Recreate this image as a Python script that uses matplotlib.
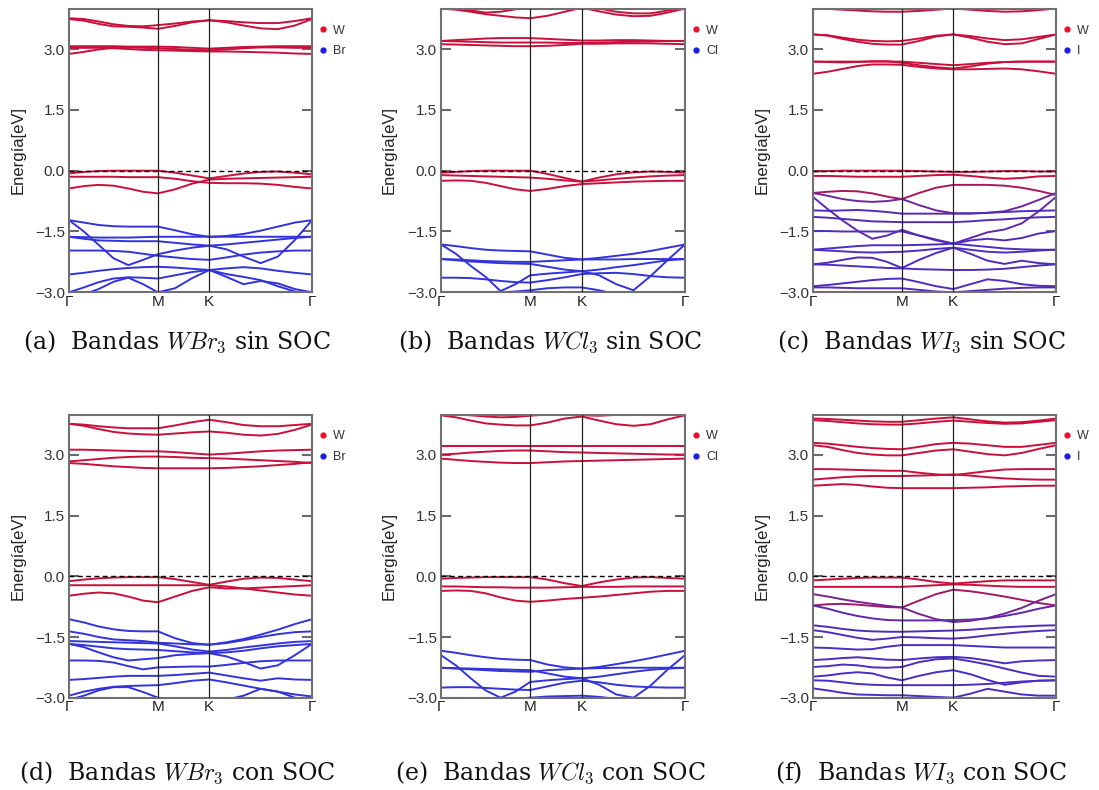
import numpy as np
import matplotlib
matplotlib.use('Agg')
import matplotlib.pyplot as plt
from matplotlib.lines import Line2D

plt.rcParams['font.family'] = ['Liberation Sans', 'DejaVu Sans']
plt.rcParams['mathtext.fontset'] = 'cm'

# ---------------- path / axis data ----------------
k_labels = ['Γ', 'M', 'K', 'Γ']
seg_len = [1 / np.sqrt(3), 1 / 3, 2 / 3]      # Γ-M, M-K, K-Γ (hexagonal BZ)
seg_pts = [6, 3, 6]                            # samples per segment
y_ticks = [-3.0, -1.5, 0.0, 1.5, 3.0]
y_tick_labels = ['−3.0', '−1.5', '0.0', '1.5', '3.0']
y_range = (-3.0, 4.0)

# ---------------- (a) WBr3 sin SOC ----------------
bands_a = [
    [3.76, 3.74, 3.68, 3.61, 3.57, 3.56, 3.59, 3.63, 3.68, 3.71, 3.69, 3.66, 3.64, 3.64, 3.69, 3.76],
    [3.74, 3.70, 3.62, 3.56, 3.55, 3.53, 3.50, 3.57, 3.66, 3.71, 3.66, 3.58, 3.51, 3.49, 3.58, 3.74],
    [3.07, 3.07, 3.07, 3.07, 3.06, 3.06, 3.06, 3.05, 3.03, 3.01, 3.03, 3.05, 3.06, 3.07, 3.07, 3.07],
    [2.88, 2.93, 2.99, 3.03, 3.04, 3.03, 3.02, 3.00, 2.98, 2.97, 2.99, 3.02, 3.04, 3.04, 3.03, 3.03],
    [3.03, 3.03, 3.03, 3.02, 3.00, 2.98, 2.97, 2.96, 2.95, 2.94, 2.94, 2.93, 2.92, 2.91, 2.89, 2.88],
    [-0.07, -0.03, -0.01, 0.0, 0.0, 0.0, 0.0, -0.05, -0.12, -0.19, -0.13, -0.07, -0.03, -0.02, -0.05, -0.09],
    [-0.15, -0.15, -0.15, -0.15, -0.16, -0.16, -0.16, -0.20, -0.26, -0.30, -0.31, -0.31, -0.32, -0.35, -0.40, -0.44],
    [-0.44, -0.38, -0.35, -0.37, -0.44, -0.52, -0.56, -0.46, -0.32, -0.22, -0.20, -0.19, -0.18, -0.17, -0.16, -0.15],
    [-1.22, -1.28, -1.34, -1.37, -1.38, -1.38, -1.38, -1.47, -1.57, -1.63, -1.61, -1.56, -1.48, -1.38, -1.28, -1.22],
    [-1.22, -1.50, -1.83, -2.16, -2.33, -2.20, -2.06, -1.97, -1.90, -1.85, -1.94, -2.12, -2.28, -2.12, -1.71, -1.22],
    [-1.63, -1.64, -1.65, -1.65, -1.65, -1.64, -1.63, -1.63, -1.63, -1.63, -1.63, -1.63, -1.63, -1.63, -1.63, -1.63],
    [-1.63, -1.68, -1.72, -1.73, -1.74, -1.74, -1.74, -1.78, -1.82, -1.85, -1.82, -1.78, -1.74, -1.70, -1.66, -1.63],
    [-1.97, -1.97, -1.97, -1.98, -2.00, -2.05, -2.10, -2.14, -2.18, -2.20, -2.14, -2.07, -2.02, -1.99, -1.97, -1.97],
    [-2.56, -2.52, -2.47, -2.43, -2.40, -2.38, -2.37, -2.39, -2.42, -2.45, -2.41, -2.38, -2.41, -2.47, -2.52, -2.56],
    [-3.00, -2.88, -2.75, -2.66, -2.63, -2.64, -2.66, -2.58, -2.50, -2.45, -2.62, -2.80, -2.72, -2.78, -2.92, -3.00],
    [-3.10, -3.05, -2.92, -2.74, -2.64, -2.80, -3.00, -2.90, -2.65, -2.45, -2.55, -2.62, -2.70, -2.85, -2.98, -3.08],
]
weights_a = [1, 1, 1, 1, 1, 1, 1, 1, 0, 0, 0, 0, 0, 0, 0, 0]

# ---------------- (b) WCl3 sin SOC ----------------
bands_b = [
    [4.00, 3.97, 3.92, 3.86, 3.82, 3.78, 3.76, 3.82, 3.92, 4.02, 3.93, 3.85, 3.81, 3.82, 3.90, 4.00],
    [4.02, 4.00, 3.95, 3.90, 3.92, 3.98, 4.03, 4.05, 4.05, 4.05, 4.00, 3.92, 3.88, 3.88, 3.95, 4.02],
    [3.20, 3.22, 3.24, 3.26, 3.27, 3.27, 3.27, 3.25, 3.23, 3.21, 3.21, 3.22, 3.22, 3.21, 3.20, 3.20],
    [3.20, 3.19, 3.18, 3.17, 3.16, 3.16, 3.16, 3.16, 3.15, 3.15, 3.16, 3.17, 3.18, 3.19, 3.20, 3.20],
    [3.12, 3.11, 3.10, 3.09, 3.08, 3.07, 3.07, 3.08, 3.10, 3.13, 3.13, 3.14, 3.14, 3.14, 3.13, 3.12],
    [-0.05, -0.03, -0.01, 0.0, 0.0, 0.0, 0.0, -0.08, -0.18, -0.27, -0.17, -0.09, -0.04, -0.02, -0.03, -0.05],
    [-0.11, -0.12, -0.13, -0.14, -0.15, -0.16, -0.17, -0.20, -0.24, -0.27, -0.24, -0.20, -0.17, -0.14, -0.12, -0.11],
    [-0.25, -0.24, -0.25, -0.30, -0.38, -0.46, -0.50, -0.45, -0.38, -0.33, -0.31, -0.29, -0.27, -0.26, -0.25, -0.25],
    [-1.82, -1.86, -1.91, -1.95, -1.97, -1.98, -1.99, -2.07, -2.15, -2.19, -2.15, -2.10, -2.05, -1.98, -1.90, -1.82],
    [-1.82, -2.05, -2.35, -2.62, -2.97, -2.80, -2.58, -2.54, -2.51, -2.48, -2.58, -2.80, -2.95, -2.60, -2.20, -1.82],
    [-2.18, -2.19, -2.21, -2.23, -2.24, -2.25, -2.25, -2.23, -2.21, -2.19, -2.19, -2.19, -2.18, -2.18, -2.18, -2.18],
    [-2.18, -2.21, -2.24, -2.26, -2.28, -2.29, -2.30, -2.37, -2.44, -2.48, -2.44, -2.38, -2.33, -2.27, -2.21, -2.18],
    [-2.64, -2.64, -2.65, -2.68, -2.72, -2.75, -2.76, -2.70, -2.63, -2.55, -2.53, -2.52, -2.55, -2.60, -2.63, -2.64],
    [-3.10, -3.10, -3.10, -3.05, -3.00, -2.98, -2.95, -2.90, -2.88, -2.88, -2.95, -3.05, -3.10, -3.10, -3.10, -3.10],
]
weights_b = [1, 1, 1, 1, 1, 1, 1, 1, 0, 0, 0, 0, 0, 0]

# ---------------- (c) WI3 sin SOC ----------------
bands_c = [
    [4.00, 3.99, 3.97, 3.95, 3.93, 3.92, 3.92, 3.94, 3.97, 4.00, 3.97, 3.94, 3.92, 3.93, 3.96, 4.00],
    [3.36, 3.34, 3.28, 3.23, 3.20, 3.19, 3.20, 3.26, 3.33, 3.36, 3.32, 3.26, 3.22, 3.24, 3.30, 3.36],
    [3.36, 3.33, 3.25, 3.18, 3.13, 3.11, 3.11, 3.20, 3.31, 3.36, 3.28, 3.18, 3.12, 3.14, 3.25, 3.36],
    [2.69, 2.69, 2.69, 2.69, 2.69, 2.69, 2.69, 2.66, 2.63, 2.60, 2.63, 2.66, 2.68, 2.69, 2.69, 2.69],
    [2.69, 2.68, 2.67, 2.68, 2.70, 2.70, 2.66, 2.60, 2.55, 2.52, 2.57, 2.64, 2.68, 2.69, 2.69, 2.69],
    [2.39, 2.44, 2.51, 2.58, 2.62, 2.62, 2.61, 2.56, 2.52, 2.50, 2.50, 2.51, 2.52, 2.50, 2.45, 2.39],
    [-0.02, -0.01, 0.0, 0.0, 0.0, 0.0, 0.0, -0.01, -0.02, -0.03, -0.03, -0.02, -0.01, -0.01, -0.02, -0.02],
    [-0.13, -0.13, -0.14, -0.15, -0.15, -0.15, -0.15, -0.13, -0.11, -0.10, -0.13, -0.17, -0.20, -0.18, -0.14, -0.13],
    [-0.55, -0.52, -0.50, -0.51, -0.56, -0.64, -0.70, -0.55, -0.42, -0.35, -0.35, -0.35, -0.37, -0.42, -0.50, -0.60],
    [-0.55, -0.62, -0.70, -0.75, -0.77, -0.75, -0.70, -0.85, -0.98, -1.05, -1.05, -1.04, -1.00, -0.88, -0.72, -0.55],
    [-0.65, -0.95, -1.23, -1.48, -1.68, -1.60, -1.46, -1.60, -1.72, -1.80, -1.66, -1.52, -1.45, -1.30, -1.00, -0.65],
    [-0.98, -0.99, -0.98, -0.97, -0.99, -1.02, -1.06, -1.06, -1.06, -1.06, -1.06, -1.04, -1.02, -1.00, -0.99, -0.98],
    [-1.14, -1.16, -1.19, -1.22, -1.25, -1.26, -1.27, -1.27, -1.27, -1.27, -1.25, -1.22, -1.20, -1.17, -1.15, -1.14],
    [-1.49, -1.49, -1.50, -1.50, -1.50, -1.50, -1.50, -1.60, -1.70, -1.80, -1.72, -1.68, -1.72, -1.66, -1.55, -1.49],
    [-1.95, -1.92, -1.89, -1.86, -1.84, -1.84, -1.84, -1.83, -1.82, -1.80, -1.84, -1.88, -1.92, -1.94, -1.95, -1.95],
    [-1.95, -1.97, -1.99, -2.01, -2.02, -2.01, -2.00, -1.97, -1.93, -1.90, -1.95, -2.00, -2.02, -2.00, -1.97, -1.95],
    [-2.31, -2.27, -2.20, -2.14, -2.15, -2.25, -2.40, -2.20, -2.03, -1.90, -2.05, -2.22, -2.30, -2.22, -2.28, -2.31],
    [-2.31, -2.32, -2.34, -2.36, -2.38, -2.40, -2.41, -2.43, -2.44, -2.45, -2.45, -2.44, -2.42, -2.38, -2.34, -2.31],
    [-2.85, -2.82, -2.78, -2.74, -2.70, -2.67, -2.66, -2.75, -2.85, -2.92, -2.80, -2.68, -2.72, -2.80, -2.84, -2.85],
    [-2.88, -2.88, -2.89, -2.90, -2.90, -2.90, -2.90, -2.94, -2.98, -3.00, -2.97, -2.94, -2.91, -2.89, -2.88, -2.88],
]
weights_c = [1, 1, 1, 1, 1, 1, 1, 1, 0.8, 0.4, 0.3, 0.2, 0.2, 0.2, 0.15, 0.15, 0.2, 0.15, 0.2, 0.2]

# ---------------- (d) WBr3 con SOC ----------------
bands_d = [
    [3.77, 3.75, 3.71, 3.68, 3.66, 3.66, 3.66, 3.73, 3.81, 3.87, 3.81, 3.74, 3.71, 3.71, 3.74, 3.77],
    [3.77, 3.72, 3.64, 3.57, 3.53, 3.51, 3.50, 3.53, 3.56, 3.58, 3.55, 3.50, 3.48, 3.52, 3.62, 3.75],
    [3.13, 3.13, 3.12, 3.11, 3.10, 3.09, 3.09, 3.07, 3.04, 3.01, 3.03, 3.06, 3.09, 3.11, 3.12, 3.13],
    [2.84, 2.87, 2.90, 2.93, 2.95, 2.96, 2.96, 2.95, 2.93, 2.92, 2.91, 2.89, 2.87, 2.85, 2.83, 2.80],
    [2.80, 2.78, 2.75, 2.72, 2.70, 2.68, 2.67, 2.67, 2.67, 2.67, 2.68, 2.70, 2.72, 2.75, 2.78, 2.82],
    [-0.12, -0.08, -0.05, -0.03, -0.02, -0.02, -0.02, -0.07, -0.14, -0.21, -0.13, -0.06, -0.03, -0.04, -0.08, -0.12],
    [-0.22, -0.22, -0.22, -0.22, -0.22, -0.22, -0.22, -0.22, -0.22, -0.22, -0.25, -0.30, -0.35, -0.40, -0.45, -0.48],
    [-0.48, -0.43, -0.40, -0.42, -0.50, -0.60, -0.64, -0.50, -0.36, -0.27, -0.30, -0.30, -0.28, -0.26, -0.24, -0.22],
    [-1.06, -1.14, -1.24, -1.31, -1.35, -1.36, -1.36, -1.53, -1.65, -1.69, -1.63, -1.55, -1.44, -1.32, -1.18, -1.06],
    [-1.36, -1.42, -1.50, -1.56, -1.58, -1.60, -1.64, -1.66, -1.68, -1.69, -1.65, -1.58, -1.50, -1.43, -1.38, -1.36],
    [-1.60, -1.61, -1.62, -1.63, -1.64, -1.65, -1.66, -1.73, -1.81, -1.86, -1.82, -1.76, -1.71, -1.66, -1.62, -1.60],
    [-1.67, -1.75, -1.88, -2.00, -2.08, -2.05, -2.02, -1.95, -1.92, -1.90, -1.98, -2.12, -2.28, -2.20, -1.95, -1.67],
    [-1.67, -1.70, -1.74, -1.78, -1.80, -1.81, -1.82, -1.85, -1.88, -1.90, -1.88, -1.84, -1.78, -1.73, -1.70, -1.67],
    [-2.08, -2.08, -2.09, -2.13, -2.22, -2.30, -2.25, -2.24, -2.23, -2.23, -2.19, -2.14, -2.10, -2.08, -2.08, -2.08],
    [-2.56, -2.54, -2.51, -2.48, -2.46, -2.46, -2.46, -2.44, -2.41, -2.38, -2.45, -2.52, -2.58, -2.52, -2.55, -2.56],
    [-2.95, -2.85, -2.78, -2.73, -2.71, -2.70, -2.69, -2.64, -2.58, -2.55, -2.62, -2.70, -2.78, -2.85, -2.92, -2.97],
    [-3.05, -2.95, -2.82, -2.74, -2.74, -2.86, -3.00, -3.10, -3.10, -3.10, -3.05, -2.95, -2.78, -2.85, -3.00, -3.10],
]
weights_d = [1, 1, 1, 1, 1, 1, 1, 1, 0, 0, 0, 0, 0, 0, 0, 0, 0]

# ---------------- (e) WCl3 con SOC ----------------
bands_e = [
    [4.02, 4.00, 3.98, 3.95, 3.93, 3.94, 3.97, 4.00, 4.00, 3.98, 3.97, 3.99, 4.01, 4.02, 4.02, 4.02],
    [3.98, 3.93, 3.85, 3.78, 3.75, 3.73, 3.73, 3.80, 3.90, 3.95, 3.85, 3.76, 3.72, 3.76, 3.88, 3.98],
    [3.21, 3.21, 3.21, 3.21, 3.21, 3.21, 3.21, 3.21, 3.21, 3.21, 3.21, 3.21, 3.21, 3.21, 3.21, 3.21],
    [3.01, 3.03, 3.06, 3.08, 3.10, 3.11, 3.11, 3.09, 3.07, 3.06, 3.05, 3.04, 3.03, 3.02, 3.01, 3.01],
    [2.91, 2.88, 2.85, 2.83, 2.81, 2.80, 2.80, 2.82, 2.84, 2.85, 2.86, 2.87, 2.88, 2.89, 2.90, 2.91],
    [-0.06, -0.04, -0.03, -0.02, -0.02, -0.02, -0.02, -0.08, -0.17, -0.24, -0.15, -0.08, -0.03, -0.02, -0.04, -0.06],
    [-0.25, -0.25, -0.26, -0.27, -0.27, -0.28, -0.28, -0.28, -0.27, -0.26, -0.26, -0.26, -0.25, -0.25, -0.25, -0.25],
    [-0.36, -0.35, -0.36, -0.42, -0.52, -0.60, -0.63, -0.60, -0.56, -0.53, -0.50, -0.46, -0.42, -0.38, -0.36, -0.36],
    [-1.84, -1.89, -1.95, -2.00, -2.04, -2.06, -2.07, -2.18, -2.25, -2.28, -2.24, -2.17, -2.10, -2.02, -1.93, -1.84],
    [-1.95, -2.20, -2.52, -2.82, -3.00, -2.85, -2.61, -2.57, -2.54, -2.52, -2.68, -2.92, -3.00, -2.70, -2.30, -1.95],
    [-2.26, -2.28, -2.30, -2.32, -2.34, -2.35, -2.36, -2.32, -2.30, -2.28, -2.27, -2.26, -2.26, -2.26, -2.26, -2.26],
    [-2.26, -2.27, -2.28, -2.29, -2.30, -2.31, -2.32, -2.40, -2.48, -2.52, -2.48, -2.42, -2.36, -2.31, -2.28, -2.26],
    [-2.75, -2.74, -2.74, -2.76, -2.78, -2.80, -2.81, -2.72, -2.63, -2.58, -2.62, -2.68, -2.72, -2.74, -2.75, -2.75],
    [-3.10, -3.10, -3.10, -3.08, -3.05, -3.02, -3.00, -2.97, -2.96, -2.95, -2.98, -3.03, -3.10, -3.10, -3.10, -3.10],
]
weights_e = [1, 1, 1, 1, 1, 1, 1, 1, 0, 0, 0, 0, 0, 0]

# ---------------- (f) WI3 con SOC ----------------
bands_f = [
    [3.90, 3.89, 3.87, 3.85, 3.83, 3.82, 3.82, 3.86, 3.90, 3.93, 3.88, 3.83, 3.80, 3.81, 3.85, 3.90],
    [3.86, 3.84, 3.81, 3.78, 3.76, 3.75, 3.75, 3.78, 3.82, 3.85, 3.82, 3.79, 3.77, 3.78, 3.82, 3.86],
    [3.30, 3.28, 3.24, 3.20, 3.17, 3.15, 3.14, 3.20, 3.27, 3.30, 3.28, 3.24, 3.20, 3.20, 3.25, 3.30],
    [3.24, 3.20, 3.12, 3.05, 3.01, 2.99, 2.99, 3.05, 3.11, 3.14, 3.08, 3.02, 2.99, 3.05, 3.15, 3.24],
    [2.65, 2.65, 2.64, 2.63, 2.62, 2.61, 2.61, 2.56, 2.52, 2.50, 2.55, 2.60, 2.64, 2.65, 2.65, 2.65],
    [2.39, 2.42, 2.45, 2.47, 2.48, 2.48, 2.48, 2.49, 2.50, 2.52, 2.49, 2.45, 2.42, 2.40, 2.39, 2.39],
    [2.24, 2.26, 2.28, 2.26, 2.22, 2.19, 2.18, 2.18, 2.18, 2.18, 2.19, 2.20, 2.22, 2.23, 2.24, 2.24],
    [-0.10, -0.08, -0.06, -0.04, -0.03, -0.03, -0.03, -0.08, -0.14, -0.18, -0.15, -0.12, -0.10, -0.10, -0.10, -0.10],
    [-0.26, -0.26, -0.26, -0.26, -0.26, -0.26, -0.26, -0.24, -0.22, -0.20, -0.21, -0.23, -0.25, -0.26, -0.26, -0.26],
    [-0.72, -0.69, -0.68, -0.70, -0.73, -0.76, -0.77, -0.60, -0.44, -0.33, -0.37, -0.43, -0.50, -0.58, -0.66, -0.72],
    [-0.44, -0.50, -0.57, -0.63, -0.68, -0.73, -0.77, -0.93, -1.06, -1.13, -1.10, -1.03, -0.92, -0.78, -0.60, -0.44],
    [-0.72, -0.80, -0.90, -0.98, -1.04, -1.08, -1.09, -1.09, -1.09, -1.08, -1.07, -1.04, -0.98, -0.90, -0.80, -0.72],
    [-1.21, -1.25, -1.30, -1.34, -1.36, -1.37, -1.37, -1.36, -1.35, -1.34, -1.32, -1.29, -1.26, -1.24, -1.22, -1.21],
    [-1.33, -1.38, -1.45, -1.52, -1.57, -1.54, -1.50, -1.51, -1.53, -1.54, -1.51, -1.46, -1.42, -1.38, -1.35, -1.33],
    [-1.76, -1.77, -1.79, -1.81, -1.80, -1.74, -1.70, -1.70, -1.70, -1.70, -1.72, -1.74, -1.76, -1.76, -1.76, -1.76],
    [-2.07, -2.05, -2.02, -2.00, -2.03, -2.06, -2.07, -2.03, -2.00, -1.99, -2.02, -2.08, -2.15, -2.10, -2.08, -2.07],
    [-2.24, -2.22, -2.18, -2.20, -2.25, -2.26, -2.24, -2.12, -2.05, -2.03, -2.10, -2.18, -2.28, -2.38, -2.46, -2.48],
    [-2.48, -2.45, -2.40, -2.37, -2.40, -2.50, -2.57, -2.46, -2.37, -2.32, -2.42, -2.56, -2.68, -2.62, -2.58, -2.57],
    [-2.57, -2.58, -2.62, -2.66, -2.68, -2.69, -2.69, -2.69, -2.69, -2.69, -2.68, -2.66, -2.63, -2.60, -2.58, -2.57],
    [-2.77, -2.82, -2.88, -2.92, -2.93, -2.94, -2.94, -2.96, -2.98, -3.00, -2.90, -2.78, -2.85, -2.92, -2.95, -2.95],
]
weights_f = [1, 1, 1, 1, 1, 1, 1, 1, 1, 0.75, 0.45, 0.3, 0.2, 0.2, 0.15, 0.15, 0.15, 0.15, 0.15, 0.15]

halogens = ['Br', 'Cl', 'I', 'Br', 'Cl', 'I']
captions = [
    '(a)  Bandas $WBr_3$ sin SOC',
    '(b)  Bandas $WCl_3$ sin SOC',
    '(c)  Bandas $WI_3$ sin SOC',
    '(d)  Bandas $WBr_3$ con SOC',
    '(e)  Bandas $WCl_3$ con SOC',
    '(f)  Bandas $WI_3$ con SOC',
]

# ---------------- layout (pixels) ----------------
W_PX, H_PX = 1099, 790
col_left = [69, 441, 813]
col_right = [312, 685, 1056]
row_top = [8.5, 414.5]
row_bot = [292.3, 697.7]
caption_x = [177, 550, 921]
caption_y = [342, 773]

red = np.array([0.79, 0.06, 0.23])
blue = np.array([0.20, 0.20, 0.86])


def mix(w):
    return tuple(w * red + (1 - w) * blue)


# k-path positions
nodes = np.concatenate([[0], np.cumsum(seg_len)])
kx = [nodes[0]]
for i, n in enumerate(seg_pts):
    kx.extend(np.linspace(nodes[i], nodes[i + 1], n + 1)[1:])
kx = np.array(kx)

fig = plt.figure(figsize=(W_PX / 100, H_PX / 100), dpi=100)

all_bands = [bands_a, bands_b, bands_c, bands_d, bands_e, bands_f]
all_w = [weights_a, weights_b, weights_c, weights_d, weights_e, weights_f]

for p in range(6):
    r, c = divmod(p, 3)
    l = col_left[c] / W_PX
    b = 1 - row_bot[r] / H_PX
    w = (col_right[c] - col_left[c]) / W_PX
    h = (row_bot[r] - row_top[r]) / H_PX
    ax = fig.add_axes([l, b, w, h])

    for band, wt in zip(all_bands[p], all_w[p]):
        ax.plot(kx, band, color=mix(wt), lw=1.4, solid_capstyle='round',
                solid_joinstyle='round', zorder=2)

    for xv in nodes[1:-1]:
        ax.axvline(xv, color='#222222', lw=0.9, zorder=3)
    ax.axhline(0.0, color='black', lw=1.0, ls=(0, (3.5, 2.5)), zorder=3)

    ax.set_xlim(nodes[0], nodes[-1])
    ax.set_ylim(*y_range)
    ax.set_xticks(nodes)
    ax.set_xticklabels(k_labels)
    ax.set_yticks(y_ticks)
    ax.set_yticklabels(y_tick_labels)
    ax.tick_params(axis='y', direction='in', length=7, width=1.5, colors='#6a6a6a',
                   right=True, labelsize=11, labelcolor='#333333', pad=3)
    ax.tick_params(axis='x', length=0, labelsize=11, labelcolor='#222222', pad=2)
    for s in ax.spines.values():
        s.set_color('#707070')
        s.set_linewidth(1.5)
    ax.set_ylabel('Energía[eV]', fontsize=12, color='#222222')
    ax.yaxis.set_label_coords(-0.18, 0.5)

    handles = [Line2D([], [], ls='none', marker='o', ms=3.5, color='#e8102a'),
               Line2D([], [], ls='none', marker='o', ms=3.5, color='#1a1ae6')]
    ax.legend(handles, ['W', halogens[p]], loc='upper left', bbox_to_anchor=(1.0, 0.97),
              frameon=False, fontsize=9, handlelength=0.6, handletextpad=0.5,
              labelspacing=0.7, borderaxespad=0.2, labelcolor='#333333')

    fig.text(caption_x[c] / W_PX, 1 - caption_y[r] / H_PX, captions[p], ha='center', va='center',
             fontsize=17, family='DejaVu Serif', color='#111111')

fig.savefig('out.png', dpi=100)
